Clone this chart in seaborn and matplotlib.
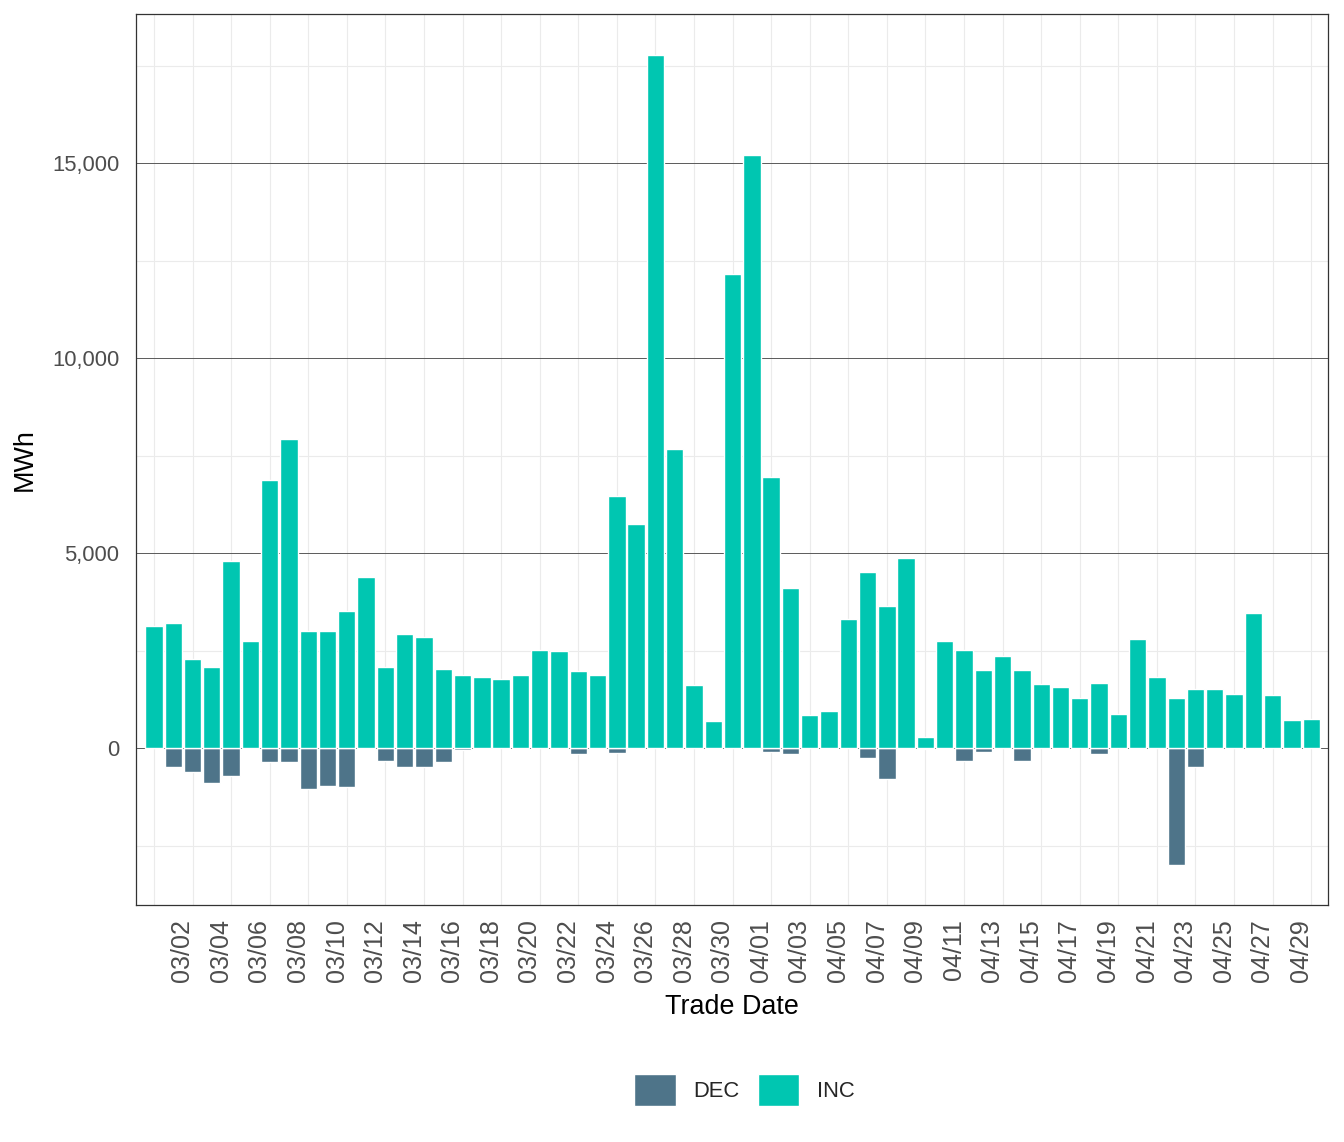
import pandas as pd
import seaborn as sns
from matplotlib import pyplot as plt
from matplotlib.ticker import FuncFormatter
from matplotlib.transforms import ScaledTranslation

# trade dates 03/01 .. 04/30
march_days = [f"03/{d:02d}" for d in range(1, 32)]
april_days = [f"04/{d:02d}" for d in range(1, 31)]
dates = march_days + april_days

inc_mwh = [
    3145, 3222, 2299, 2094, 4812, 2761, 6889, 7940, 3017, 3017,
    3530, 4402, 2094, 2940, 2863, 2043, 1889, 1838, 1786, 1889,
    2530, 2504, 1991, 1890, 6462, 5767, 17788, 7685, 1640, 709,
    12174,
    15217, 6949, 4127, 862, 973, 3333, 4513, 3641, 4872, 282,
    2769, 2513, 2000, 2359, 2000, 1641, 1564, 1282, 1692, 897,
    2795, 1821, 1282, 1538, 1538, 1385, 3462, 1359, 718, 769,
]
dec_mwh = [
    0, -462, -590, -872, -718, 0, -359, -359, -1051, -974,
    -1000, 0, -308, -462, -487, -359, -51, 0, 0, 0,
    0, 0, -154, 0, -125, 0, 0, 0, 0, 0,
    0,
    0, -97, -153, 0, 0, 0, -248, -786, 0, -17,
    0, -325, -94, 0, -325, 0, 0, 0, -145, 0,
    0, 0, -2991, -479, 0, 0, 0, 0, 0, 0,
]
series = ["DEC", "INC"]
colors = {"DEC": "#4e7489", "INC": "#00c6b1"}
y_major = [0, 5000, 10000, 15000]
y_minor = [-2500, 2500, 7500, 12500, 17500]

W, H = 1344, 1142


def build_frame() -> pd.DataFrame:
    rows = []
    for date, dec, inc in zip(dates, dec_mwh, inc_mwh):
        rows.append({"date": date, "type": "DEC", "mwh": dec})
        rows.append({"date": date, "type": "INC", "mwh": inc})
    return pd.DataFrame(rows)


def main() -> None:
    sns.set_style("white")
    plt.rcParams["font.family"] = ["Liberation Sans", "DejaVu Sans"]

    fig = plt.figure(figsize=(W / 100, H / 100), dpi=100)
    ax = fig.add_axes([136 / W, 1 - 905 / H, (1328 - 136) / W, (905 - 14) / H])

    df = build_frame()
    sns.barplot(data=df, x="date", y="mwh", hue="type", order=dates,
                hue_order=series, palette=colors, dodge=False, width=0.9,
                saturation=1, errorbar=None, ax=ax, zorder=3)

    # grid: minor lines on odd dates / half steps, dark major lines on y
    ax.set_xticks(range(1, len(dates), 2))
    ax.set_xticklabels(dates[1::2], rotation=90)
    ax.set_xticks(range(0, len(dates), 2), minor=True)
    ax.set_yticks(y_major)
    ax.set_yticks(y_minor, minor=True)
    ax.yaxis.set_major_formatter(FuncFormatter(lambda v, _: f"{v:,.0f}"))

    ax.grid(False)
    ax.grid(True, which="minor", axis="both", color="#ebebeb", linewidth=0.8, zorder=0)
    ax.grid(True, which="major", axis="y", color="#5a5a5a", linewidth=0.7, zorder=1)
    ax.set_axisbelow(True)

    ax.set_xlim(-0.93, 60.87)
    ax.set_ylim(-4013, 18833)

    ax.tick_params(axis="both", which="major", length=5, width=0.9, color="#333333",
                   labelcolor="#4d4d4d")
    ax.tick_params(axis="x", labelsize=18, pad=5)
    ax.tick_params(axis="y", labelsize=15.8, pad=7)
    ax.tick_params(which="minor", length=0)
    # labels sit a little right of their tick, as in the source
    shift = ScaledTranslation(0.09, 0, fig.dpi_scale_trans)
    for label in ax.get_xticklabels():
        label.set_transform(label.get_transform() + shift)
    for side in ax.spines.values():
        side.set_color("#333333")
        side.set_linewidth(0.9)

    ax.set_xlabel("Trade Date", fontsize=19.4, color="black", labelpad=9)
    ax.set_ylabel("MWh", fontsize=19.4, color="black", labelpad=10)

    handles, labels = ax.get_legend_handles_labels()
    ax.get_legend().remove()
    fig.legend(handles, labels, loc="center", ncol=2, frameon=False,
               bbox_to_anchor=(744.5 / W, 1 - 1090 / H), fontsize=15.8,
               handlelength=1.9, handleheight=1.9, handletextpad=0.8,
               columnspacing=0.8, borderpad=0)

    fig.savefig("out.png", dpi=100)


if __name__ == "__main__":
    main()
